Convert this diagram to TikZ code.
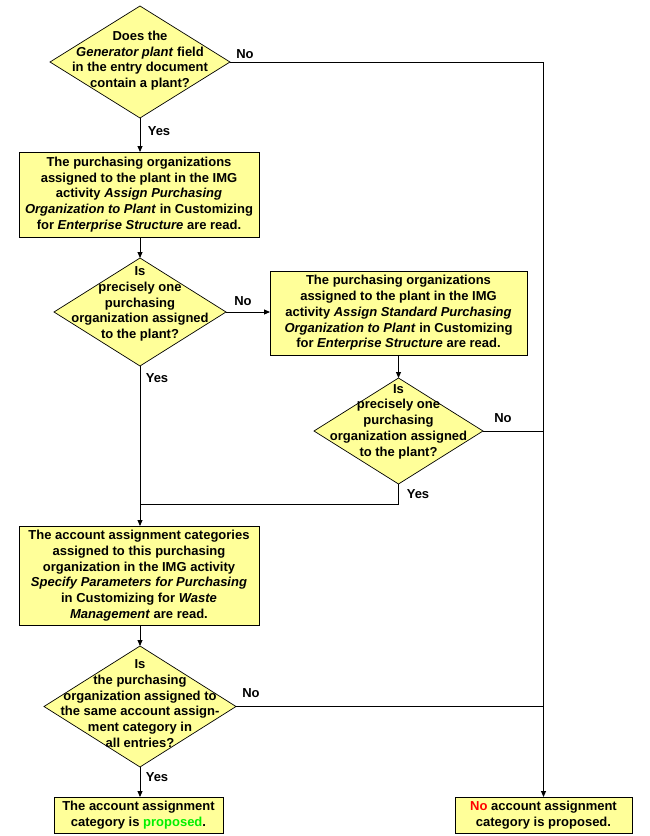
\documentclass[tikz,border=0pt]{standalone}
\usepackage{fontspec}
\setmainfont{Liberation Sans}
\usetikzlibrary{shapes.geometric,arrows.meta}
\definecolor{boxyellow}{RGB}{255,255,153}
\definecolor{okgreen}{RGB}{0,240,0}
\definecolor{nored}{RGB}{255,0,0}
\begin{document}
\begin{tikzpicture}[x=1pt,y=-1pt,
  every node/.style={font=\fontsize{13}{15.7}\selectfont\bfseries},
  stepbox/.style={draw=black,line width=0.9pt,fill=boxyellow,rectangle,inner sep=0pt,outer sep=0pt,align=center},
  decision/.style={draw=black,line width=0.7pt,fill=boxyellow,diamond,inner sep=0pt,outer sep=0pt},
  dtext/.style={align=center,inner sep=0pt},
  elabel/.style={inner sep=0pt},
  flow/.style={line width=0.9pt,draw=black},
  arr/.style={flow,-{Triangle[length=6pt,width=5pt]}}
]
\useasboundingbox (0,0) rectangle (649,836);

% decisions
\node[decision,minimum width=180,minimum height=112] (d1) at (140,62) {};
\node[dtext] (d1t) at (140,60.5) {Does the\\\textit{Generator plant} field\\in the entry document\\contain a plant?};

\node[decision,minimum width=172,minimum height=108] (d2) at (140,312) {};
\node[dtext] (d2t) at (140,304) {Is\\precisely one\\purchasing\\organization assigned\\to the plant?};

\node[decision,minimum width=169,minimum height=106] (d3) at (398.5,431) {};
\node[dtext] (d3t) at (398.5,421.5) {Is\\precisely one\\purchasing\\organization assigned\\to the plant?};

\node[decision,minimum width=192,minimum height=121] (d4) at (140,706.5) {};
\node[dtext] (d4t) at (140,703.5) {Is\\the purchasing\\organization assigned to\\the same account assign-\\ment category in\\all entries?};

% boxes
\node[stepbox,minimum width=240,minimum height=85] (b1) at (139,194.5)
  {The purchasing organizations\\assigned to the plant in the IMG\\activity \textit{Assign Purchasing}\\\textit{Organization to Plant} in Customizing\\for \textit{Enterprise Structure} are read.};

\node[stepbox,minimum width=257,minimum height=84] (b2) at (398.5,313)
  {The purchasing organizations\\assigned to the plant in the IMG\\activity \textit{Assign Standard Purchasing}\\\textit{Organization to Plant} in Customizing\\for \textit{Enterprise Structure} are read.};

\node[stepbox,minimum width=240,minimum height=99] (b3) at (139,575.5)
  {The account assignment categories\\assigned to this purchasing\\organization in the IMG activity\\\textit{Specify Parameters for Purchasing}\\in Customizing for \textit{Waste}\\\textit{Management} are read.};

\node[stepbox,minimum width=169,minimum height=36] (b4) at (138.5,815)
  {The account assignment\\category is \textcolor{okgreen}{proposed}.};

\node[stepbox,minimum width=177,minimum height=36] (b5) at (543.5,815)
  {\textcolor{nored}{No} account assignment\\category is proposed.};

% connectors
\draw[arr] (d1.east) -| (b5.north);
\draw[arr] (d1.south) -- (d1.south |- b1.north);
\draw[arr] (b1.south -| d2.north) -- (d2.north);
\draw[arr] (d2.east) -- (d2.east -| b2.west);
\draw[arr] (b2.south) -- (d3.north);
\draw[arr] (d2.south) -- (d2.south |- b3.north);
\coordinate (m) at (140,504);
\draw[flow] (d3.south) |- (m);
\draw[flow] (d3.east) -- (d3.east -| b5.north);
\draw[arr] (b3.south -| d4.north) -- (d4.north);
\draw[arr] (d4.south) -- (d4.south |- b4.north);
\draw[flow] (d4.east) -- (d4.east -| b5.north);

% edge labels
\node[elabel] (l1n) at (245,54) {No};
\node[elabel] (l1y) at (159,131) {Yes};
\node[elabel] (l2n) at (243,301) {No};
\node[elabel] (l2y) at (157,378) {Yes};
\node[elabel] (l3n) at (503,418) {No};
\node[elabel] (l3y) at (418,494) {Yes};
\node[elabel] (l4n) at (251,693) {No};
\node[elabel] (l4y) at (157,777) {Yes};
\end{tikzpicture}
\end{document}
